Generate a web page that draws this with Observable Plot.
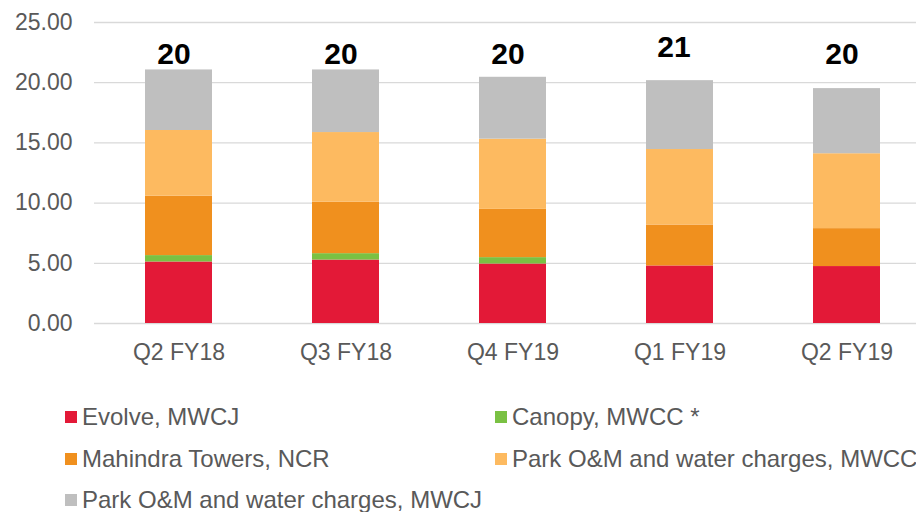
<!DOCTYPE html>
<html>
<head>
<meta charset="utf-8">
<script src="https://cdn.jsdelivr.net/npm/d3@7"></script>
<script src="https://cdn.jsdelivr.net/npm/@observablehq/plot@0.6"></script>
<style>
  body { margin: 0; background: white; font-family: "Liberation Sans", Arial, sans-serif; overflow: hidden; }
  #legend { box-sizing: border-box; padding-top: 16px; padding-left: 65px; display: flex; flex-wrap: wrap; width: 940px; }
  .item { width: 430px; font-size: 24px; line-height: 41.5px; color: #595959; white-space: nowrap; }
  .sw { display: inline-block; width: 12px; height: 12px; margin-right: 5px; margin-bottom: 2px; vertical-align: baseline; }
</style>
</head>
<body>
<div id="chart"></div>
<div id="legend"></div>
<script>
const quarters = ["Q2 FY18", "Q3 FY18", "Q4 FY19", "Q1 FY19", "Q2 FY19"];
const seriesNames = ["Evolve, MWCJ", "Canopy, MWCC *", "Mahindra Towers, NCR", "Park O&M and water charges, MWCC", "Park O&M and water charges, MWCJ"];
const seriesColors = ["#e31937", "#7ac143", "#f0901e", "#fdba60", "#bfbfbf"];
const evolve   = [5.11, 5.27, 4.94, 4.78, 4.73];
const canopy   = [0.53, 0.53, 0.53, 0.00, 0.00];
const mahindra = [4.94, 4.28, 4.01, 3.40, 3.15];
const parkMWCC = [5.45, 5.78, 5.83, 6.27, 6.22];
const parkMWCJ = [5.03, 5.20, 5.14, 5.72, 5.41];
const totalLabels = ["20", "20", "20", "21", "20"];
const yTicks = [0, 5, 10, 15, 20, 25];

const seriesValues = [evolve, canopy, mahindra, parkMWCC, parkMWCJ];
const rows = [];
seriesNames.forEach((name, s) => quarters.forEach((q, i) => rows.push({quarter: q, series: name, value: seriesValues[s][i]})));
const labelRows = quarters.map((q, i) => ({quarter: q, label: totalLabels[i]}));

const chart = Plot.plot({
  width: 916, height: 380,
  marginLeft: 94, marginRight: 0, marginTop: 22, marginBottom: 57,
  style: {fontFamily: "Liberation Sans, Arial, sans-serif", fontSize: "23px", color: "#595959", background: "white", overflow: "visible"},
  x: {domain: quarters, range: [94, 930.5], paddingInner: 0.6, paddingOuter: 0.3, label: null},
  y: {domain: [0, 25], label: null},
  color: {domain: seriesNames, range: seriesColors},
  marks: [
    Plot.ruleY(yTicks, {stroke: "#d9d9d9", strokeWidth: 1.3}),
    Plot.barY(rows, {x: "quarter", y: "value", fill: "series"}),
    Plot.axisY({ticks: yTicks, tickSize: 0, tickPadding: 22, tickFormat: d3.format(".2f"), label: null, fill: "#595959", fontSize: 23}),
    Plot.axisX({tickSize: 0, tickPadding: 20, label: null, fill: "#595959", fontSize: 23}),
    Plot.text(labelRows, {filter: d => d.label !== "21", x: "quarter", text: "label", frameAnchor: "top", lineAnchor: "top", dy: 20, dx: -5, fontWeight: "bold", fontSize: 30, fill: "black"}),
    Plot.text(labelRows, {filter: d => d.label === "21", x: "quarter", text: "label", frameAnchor: "top", lineAnchor: "top", dy: 13, dx: -6, fontWeight: "bold", fontSize: 30, fill: "black"})
  ]
});
document.getElementById("chart").appendChild(chart);

const legend = document.getElementById("legend");
seriesNames.forEach((name, i) => {
  const item = document.createElement("div");
  item.className = "item";
  const sw = document.createElement("span");
  sw.className = "sw";
  sw.style.background = seriesColors[i];
  item.appendChild(sw);
  item.appendChild(document.createTextNode(name));
  legend.appendChild(item);
});
</script>
</body>
</html>
